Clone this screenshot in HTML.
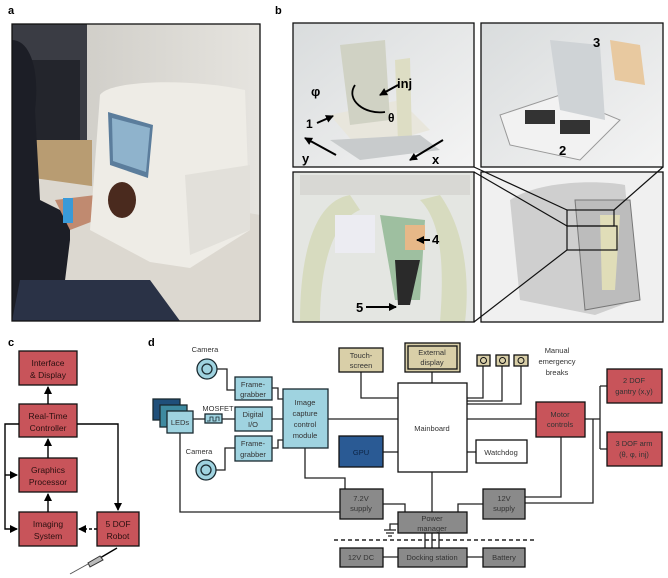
<!DOCTYPE html>
<html><head><meta charset="utf-8"><style>
html,body{margin:0;padding:0;background:#fff;}
svg{display:block;font-family:"Liberation Sans",sans-serif;}
</style></head><body>
<svg width="668" height="578" viewBox="0 0 668 578" xmlns="http://www.w3.org/2000/svg">
<defs>
<marker id="ah" markerWidth="8" markerHeight="8" refX="7" refY="4" orient="auto" markerUnits="userSpaceOnUse"><path d="M0,0 L8,4 L0,8 z" fill="#000"/></marker>
<linearGradient id="wall" x1="0" y1="0" x2="1" y2="0"><stop offset="0" stop-color="#c8c6c0"/><stop offset="1" stop-color="#e6e4df"/></linearGradient>
<linearGradient id="rend" x1="0" y1="0" x2="1" y2="1"><stop offset="0" stop-color="#d9dcdd"/><stop offset="1" stop-color="#f4f4f4"/></linearGradient>
</defs>
<text x="8" y="14" font-size="11" font-weight="bold">a</text>
<text x="275" y="14" font-size="11" font-weight="bold">b</text>
<!-- photo a -->
<g>
<rect x="12" y="24" width="248" height="297" fill="url(#wall)"/>
<rect x="12" y="24" width="75" height="130" fill="#3a3c44"/>
<rect x="30" y="60" width="50" height="80" fill="#23252c"/>
<rect x="12" y="140" width="80" height="50" fill="#b89c72"/>
<path d="M12,175 L120,190 L260,215 L260,321 L12,321 z" fill="#dcd8d0"/>
<path d="M12,40 C30,40 40,70 35,110 L40,200 L70,215 L70,240 L60,321 L12,321 z" fill="#1c1e26"/>
<path d="M20,280 L150,280 L180,321 L12,321 z" fill="#2a3246"/>
<path d="M55,200 L120,192 L135,205 L70,230 z" fill="#c08a70"/>
<rect x="63" y="198" width="10" height="25" fill="#3a9ad8"/>
<rect x="115" y="193" width="10" height="22" fill="#3a9ad8"/>
<path d="M100,95 C110,80 190,78 245,90 L250,230 L190,268 L150,262 L90,230 z" fill="#eeece6"/>
<path d="M185,175 L250,165 L250,230 L190,255 z" fill="#e2e0da"/>
<path d="M108,112 L153,125 L148,178 L110,165 z" fill="#5b7d9c"/>
<path d="M112,118 L150,128 L146,172 L113,161 z" fill="#8fb3cc"/>
<ellipse cx="122" cy="200" rx="14" ry="18" fill="#4a2a1e"/>
<rect x="12" y="24" width="248" height="297" fill="none" stroke="#111" stroke-width="1.3"/>
</g>
<!-- panels b -->
<g>
<rect x="293" y="23" width="181" height="144" fill="url(#rend)"/>
<path d="M330,115 L400,100 L430,130 L360,150 z" fill="#e8e6dc"/>
<path d="M340,45 L385,40 L390,120 L350,125 z" fill="#d0d2c4"/>
<path d="M395,60 L410,58 L412,140 L398,142 z" fill="#ddddc4"/>
<path d="M330,140 L420,135 L440,150 L360,160 z" fill="#c8cbcc"/>
<text x="311" y="96" font-size="13" font-weight="bold">φ</text>
<text x="397" y="88" font-size="13" font-weight="bold">inj</text>
<text x="388" y="122" font-size="12" font-weight="bold">θ</text>
<text x="306" y="128" font-size="12" font-weight="bold">1</text>
<text x="302" y="163" font-size="13" font-weight="bold">y</text>
<text x="432" y="164" font-size="13" font-weight="bold">x</text>
<path d="M317,123 L333,116" stroke="#000" stroke-width="2" marker-end="url(#ah)"/>
<path d="M336,155 L305,138" stroke="#000" stroke-width="2" marker-end="url(#ah)"/>
<path d="M443,140 L410,160" stroke="#000" stroke-width="2" marker-end="url(#ah)"/>
<path d="M398,85 L380,95" stroke="#000" stroke-width="2" marker-end="url(#ah)"/>
<path d="M355,85 C345,100 365,115 385,112" stroke="#000" stroke-width="1.8" fill="none"/>
<rect x="293" y="23" width="181" height="144" fill="none" stroke="#111" stroke-width="1.3"/>

<rect x="481" y="23" width="182" height="144" fill="url(#rend)"/>
<path d="M500,115 L560,95 L620,120 L580,160 L510,145 z" fill="#f2f2f2" stroke="#999"/>
<rect x="525" y="110" width="30" height="14" fill="#333"/>
<rect x="560" y="120" width="30" height="14" fill="#333"/>
<path d="M550,40 L600,45 L605,120 L560,110 z" fill="#cfd3d6"/>
<path d="M610,40 L640,45 L645,85 L615,80 z" fill="#e8c9a0"/>
<text x="593" y="47" font-size="13" font-weight="bold">3</text>
<text x="559" y="155" font-size="13" font-weight="bold">2</text>
<rect x="481" y="23" width="182" height="144" fill="none" stroke="#111" stroke-width="1.3"/>

<rect x="293" y="172" width="181" height="150" fill="#e4e6e2"/>
<path d="M300,322 C300,240 320,200 350,195 L360,210 C335,220 320,260 320,322 z" fill="#d7dbbf"/>
<path d="M440,322 C445,260 440,220 420,200 L440,195 C465,230 470,280 465,322 z" fill="#d7dbbf"/>
<rect x="335" y="215" width="40" height="38" fill="#ececf2"/>
<path d="M380,215 L425,220 L420,300 L395,300 z" fill="#9ebfa0"/>
<path d="M395,260 L420,260 L410,305 L398,305 z" fill="#2a2a2a"/>
<rect x="405" y="225" width="20" height="25" fill="#e6b888"/>
<rect x="300" y="175" width="170" height="20" fill="#d8d8d4"/>
<text x="432" y="244" font-size="13" font-weight="bold">4</text>
<text x="356" y="312" font-size="13" font-weight="bold">5</text>
<path d="M430,240 L417,240" stroke="#000" stroke-width="2" marker-end="url(#ah)"/>
<path d="M366,307 L396,307" stroke="#000" stroke-width="2" marker-end="url(#ah)"/>
<rect x="293" y="172" width="181" height="150" fill="none" stroke="#111" stroke-width="1.3"/>

<rect x="481" y="172" width="182" height="150" fill="#f0f0f0"/>
<path d="M510,200 C540,180 600,180 625,185 L635,300 L595,315 L520,300 z" fill="#cfcfcf"/>
<path d="M575,200 L630,200 L640,300 L585,310 z" fill="#bcbcbc" stroke="#777"/>
<path d="M600,215 L620,215 L615,290 L602,290 z" fill="#e0ddb8"/>
<rect x="481" y="172" width="182" height="150" fill="none" stroke="#111" stroke-width="1.3"/>
<path d="M474,167 L567,210 M663,167 L614,210 M474,172 L567,226 M474,322 L567,250" stroke="#111" stroke-width="1.2" fill="none"/>
<rect x="567" y="210" width="47" height="16" fill="none" stroke="#111" stroke-width="1.2"/>
<rect x="567" y="226" width="50" height="24" fill="none" stroke="#111" stroke-width="1.2"/>
</g>

<!-- panel c -->
<text x="8" y="346" font-size="11" font-weight="bold">c</text>
<g font-size="9" fill="#222" text-anchor="middle" stroke="#111">
<rect x="19" y="351" width="58" height="34" fill="#c8545a" stroke-width="1.3"/>
<rect x="19" y="404" width="58" height="33" fill="#c8545a" stroke-width="1.3"/>
<rect x="19" y="458" width="58" height="34" fill="#c8545a" stroke-width="1.3"/>
<rect x="19" y="512" width="58" height="34" fill="#c8545a" stroke-width="1.3"/>
<rect x="97" y="512" width="42" height="34" fill="#c8545a" stroke-width="1.3"/>
</g>
<g font-size="8.5" fill="#2a1010" text-anchor="middle">
<text x="48" y="366">Interface</text><text x="48" y="378">&amp; Display</text>
<text x="48" y="419">Real-Time</text><text x="48" y="431">Controller</text>
<text x="48" y="473">Graphics</text><text x="48" y="485">Processor</text>
<text x="48" y="527">Imaging</text><text x="48" y="539">System</text>
<text x="118" y="527">5 DOF</text><text x="118" y="539">Robot</text>
</g>
<g stroke="#000" stroke-width="1.4" fill="none">
<path d="M48,404 V387" marker-end="url(#ah)"/>
<path d="M48,458 V439" marker-end="url(#ah)"/>
<path d="M48,512 V494" marker-end="url(#ah)"/>
<path d="M19,424 H5 V529 H17" marker-end="url(#ah)"/>
<path d="M5,475 H17" marker-end="url(#ah)"/>
<path d="M77,424 H118 V510" marker-end="url(#ah)"/>
<path d="M97,529 H79" stroke-dasharray="3,2" marker-end="url(#ah)"/>
<path d="M117,548 L100,558"/>
</g>
<path d="M100,556 L88,563 L90,567 L103,560 z" fill="#bbb" stroke="#333"/>
<path d="M88,564 L70,574" stroke="#555" stroke-width="1"/>

<!-- panel d -->
<text x="148" y="346" font-size="11" font-weight="bold">d</text>
<g stroke="#222" stroke-width="1.3" fill="none">
<path d="M217,369 H227 V390 H235"/>
<path d="M272,388 H278 V399 H283"/>
<path d="M272,419 H283"/>
<path d="M272,448 H278 V440 H283"/>
<path d="M216,470 H225 V448 H235"/>
<path d="M193,419 H205 M222,419 H235"/>
<path d="M328,419 H398"/>
<path d="M305,448 V478 H345 V489"/>
<path d="M180,433 V512 H340"/>
<path d="M383,504 H405 V512"/>
<path d="M432,472 V512"/>
<path d="M483,504 H458 V512"/>
<path d="M525,497 H561 V437"/>
<path d="M525,503 H593 V419"/>
<path d="M585,419 H600 M600,386 V449 M600,386 H607 M600,449 H607"/>
<path d="M467,419 H536"/>
<path d="M483,366 V398 H467 M502,366 V401 H467 M521,366 V404 H467"/>
<path d="M361,372 V398 H398"/>
<path d="M432,372 V383"/>
<path d="M383,452 H398"/>
<path d="M476,452 H467"/>
<path d="M425,533 V548 M432,533 V548 M439,533 V548"/>
<path d="M383,557 H398 M467,557 H483"/>
<path d="M398,524 H390 V530 M384,530 H396 M386,533 H394 M388,536 H392"/>
</g>
<path d="M334,540 H535" stroke="#222" stroke-width="1.6" stroke-dasharray="4,3"/>
<!-- cameras -->
<g stroke="#1a2a30" stroke-width="1.3">
<circle cx="207" cy="369" r="10" fill="#9fd3e0"/><circle cx="207" cy="369" r="5" fill="#9fd3e0"/>
<circle cx="206" cy="470" r="10" fill="#9fd3e0"/><circle cx="206" cy="470" r="5" fill="#9fd3e0"/>
<rect x="153" y="399" width="27" height="21" fill="#1f4f7a"/>
<rect x="160" y="405" width="27" height="22" fill="#3e8aa0"/>
<rect x="167" y="411" width="26" height="22" fill="#9fd3e0"/>
<rect x="205" y="414" width="17" height="9" fill="#9fd3e0"/>
<rect x="235" y="377" width="37" height="23" fill="#9fd3e0"/>
<rect x="235" y="407" width="37" height="24" fill="#9fd3e0"/>
<rect x="235" y="436" width="37" height="25" fill="#9fd3e0"/>
<rect x="283" y="389" width="45" height="59" fill="#9fd3e0"/>
</g>
<path d="M207,421 h3 v-4 h3 v4 h3 v-4 h3 v4" stroke="#1a2a30" fill="none" stroke-width="0.8"/>
<g stroke="#111" stroke-width="1.3">
<rect x="339" y="348" width="44" height="24" fill="#d9cfa8"/>
<rect x="405" y="343" width="55" height="29" fill="#d9cfa8"/>
<rect x="408" y="346" width="49" height="23" fill="#d9cfa8"/>
<rect x="477" y="355" width="13" height="11" fill="#d9cfa8"/>
<rect x="496" y="355" width="13" height="11" fill="#d9cfa8"/>
<rect x="514" y="355" width="14" height="11" fill="#d9cfa8"/>
<rect x="398" y="383" width="69" height="89" fill="#fff"/>
<rect x="536" y="402" width="49" height="35" fill="#c8545a"/>
<rect x="607" y="369" width="55" height="34" fill="#c8545a"/>
<rect x="607" y="432" width="55" height="34" fill="#c8545a"/>
<rect x="339" y="436" width="44" height="31" fill="#2a5a94"/>
<rect x="476" y="440" width="51" height="23" fill="#fff"/>
<rect x="340" y="489" width="43" height="30" fill="#8a8a8a"/>
<rect x="398" y="512" width="69" height="21" fill="#8a8a8a"/>
<rect x="483" y="489" width="42" height="30" fill="#8a8a8a"/>
<rect x="340" y="548" width="43" height="19" fill="#8a8a8a"/>
<rect x="398" y="548" width="69" height="19" fill="#8a8a8a"/>
<rect x="483" y="548" width="42" height="19" fill="#8a8a8a"/>
</g>
<g fill="none" stroke="#111" stroke-width="1">
<circle cx="483.5" cy="360.5" r="3"/><circle cx="502.5" cy="360.5" r="3"/><circle cx="521" cy="360.5" r="3"/>
</g>
<g font-size="7.5" fill="#333" text-anchor="middle">
<text x="205" y="352">Camera</text>
<text x="199" y="454">Camera</text>
<text x="218" y="411">MOSFET</text>
<text x="180" y="425">LEDs</text>
<text x="253" y="387">Frame-</text><text x="253" y="397">grabber</text>
<text x="253" y="417">Digital</text><text x="253" y="427">I/O</text>
<text x="253" y="446">Frame-</text><text x="253" y="457">grabber</text>
<text x="305" y="405">Image</text><text x="305" y="416">capture</text><text x="305" y="427">control</text><text x="305" y="438">module</text>
<text x="361" y="358">Touch-</text><text x="361" y="368">screen</text>
<text x="432" y="355">External</text><text x="432" y="365">display</text>
<text x="557" y="353">Manual</text><text x="557" y="364">emergency</text><text x="557" y="375">breaks</text>
<text x="432" y="431">Mainboard</text>
<text x="560" y="417">Motor</text><text x="560" y="427">controls</text>
<text x="634" y="383">2 DOF</text><text x="634" y="394">gantry (x,y)</text>
<text x="634" y="446">3 DOF arm</text><text x="634" y="457">(θ, φ, inj)</text>
<text x="361" y="455" fill="#0d2444">GPU</text>
<text x="501" y="455">Watchdog</text>
<text x="361" y="501">7.2V</text><text x="361" y="511">supply</text>
<text x="432" y="521">Power</text><text x="432" y="531">manager</text>
<text x="504" y="501">12V</text><text x="504" y="511">supply</text>
<text x="361" y="560">12V DC</text>
<text x="432" y="560">Docking station</text>
<text x="504" y="560">Battery</text>
</g>
</svg>
</body></html>
